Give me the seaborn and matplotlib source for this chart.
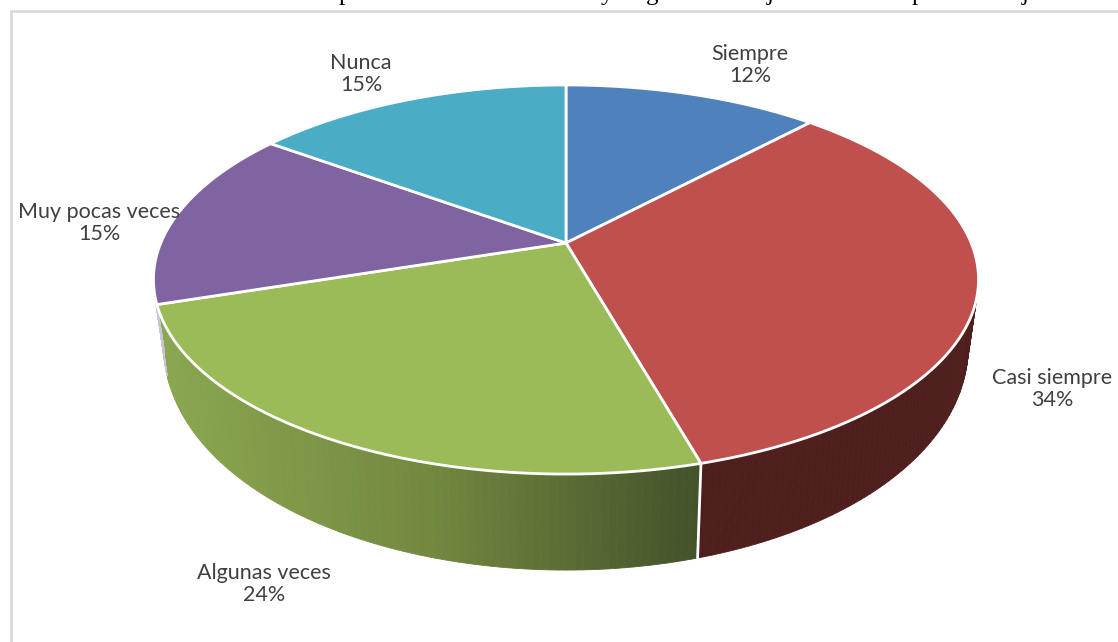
import numpy as np
import seaborn as sb
import matplotlib.pyplot as plt
from matplotlib.colors import to_rgb

#%% data
categories = ['Siempre', 'Casi siempre', 'Algunas veces', 'Muy pocas veces', 'Nunca']
values = [12, 33.6, 24.4, 15, 15]
# only the bottom of the caption above the frame is visible
cut_letters = ['p', 'y', 'g', 'j', 'p', 'j']
cut_letter_x = [345, 607, 652, 770, 918, 1025]

top_colors = sb.color_palette(['#4f81bd', '#c0504d', '#9bbb59', '#8064a2', '#4bacc6'])
label_pos = [(750, 65), (1052, 389), (264, 584), (99, 223), (361, 74)]

#%% geometry of the tilted disc (pixels)
cx, cy = 566, 243
ax_u, ax_v, k = 405.2, 187.7, 0.1877


def top_rim(t):
    u, v = np.sin(t), np.cos(t)
    w = 1 + k * v
    return cx + ax_u * u / w, cy - ax_v * v / w


def base_rim(t):
    x, y = top_rim(t)
    return cx + (x - cx) * 0.975, y + 60 - 36 * np.cos(t)


def side_color(i, x):
    # side of the slices is shaded from left to right
    if i == 1:
        return to_rgb('#4f1f1e')
    if i == 2:
        f = np.clip((x - 165) / (700 - 165), 0, 1)
        c0, c1, c2 = np.array(to_rgb('#8aa650')), np.array(to_rgb('#72883f')), np.array(to_rgb('#42522a'))
        if f < 0.5:
            return tuple(c0 + (c1 - c0) * f * 2)
        return tuple(c1 + (c2 - c1) * (f - 0.5) * 2)
    return to_rgb('#c9c4d8')


#%% plot
sb.set_theme(style='white')
plt.rcParams['font.family'] = ['Lato', 'DejaVu Sans']
fig = plt.figure(figsize=(11.18, 6.42), dpi=100)
ax = fig.add_axes([0, 0, 1, 1])
ax.set_xlim(0, 1118)
ax.set_ylim(642, 0)
ax.axis('off')

# frame, right and bottom sides are cut off
ax.plot([11, 11, 1118], [642, 11, 11], color='#d9d9d9', lw=2, solid_joinstyle='miter')

edges = np.cumsum([0] + values) / sum(values) * 2 * np.pi

# side wall first
for i in range(len(values)):
    start = max(edges[i], np.radians(80))
    end = min(edges[i + 1], np.radians(259))
    if end <= start:
        continue
    ts = np.linspace(start, end, 90)
    for a, b in zip(ts[:-1], ts[1:]):
        x1, y1 = top_rim(a)
        x2, y2 = top_rim(b)
        x3, y3 = base_rim(b)
        x4, y4 = base_rim(a)
        col = side_color(i, (x1 + x2) / 2)
        ax.fill([x1, x2, x3, x4], [y1, y2, y3, y4], color=col, lw=0.6)

# white line between red and green on the side
t_split = edges[2]
ax.plot(*zip(top_rim(t_split), base_rim(t_split)), color='white', lw=2)

# top face
for i in range(len(values)):
    ts = np.linspace(edges[i], edges[i + 1], 200)
    x, y = top_rim(ts)
    ax.fill(np.r_[cx, x], np.r_[cy, y], facecolor=top_colors[i], edgecolor='white', lw=2, joinstyle='round')

# labels
for name, val, (lx, ly) in zip(categories, values, label_pos):
    ax.text(lx, ly, f'{name}\n{val:.0f}%', ha='center', va='center', fontsize=15.5,
            color='#404040', linespacing=1.15)

# cut off caption
for ch, lx in zip(cut_letters, cut_letter_x):
    ax.text(lx, 0, ch, ha='center', va='baseline', fontsize=18, family='Liberation Serif', color='black')

plt.savefig('out.png', dpi=100)
